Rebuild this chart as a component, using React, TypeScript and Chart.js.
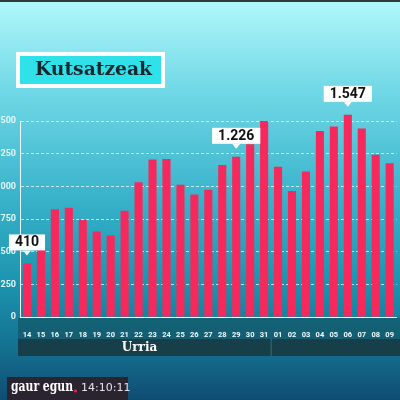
import React, { useEffect, useRef } from "react";
import { Chart, registerables } from "chart.js";

Chart.register(...registerables);

const categories = [
  "14", "15", "16", "17", "18", "19", "20", "21", "22", "23", "24", "25", "26",
  "27", "28", "29", "30", "31", "01", "02", "03", "04", "05", "06", "07", "08", "09",
];
const cases = [
  410, 563, 824, 837, 743, 655, 624, 814, 1031, 1205, 1210, 1012, 937,
  973, 1164, 1226, 1322, 1500, 1150, 965, 1114, 1424, 1458, 1547, 1442, 1242, 1176,
];
const yTicks = [0, 250, 500, 750, 1000, 1250, 1500];
const calloutCategories = ["14", "29", "06"];
const titleText = "Kutsatzeak";
const monthLabel = "Urria";
const monthEndCategory = "31";
const logoText = "gaur egun";
const clockText = "14:10:11";

function fmt(v: number): string {
  const s = String(Math.round(v));
  return s.replace(/\B(?=(\d{3})+(?!\d))/g, ".");
}

function drawFitted(ctx: CanvasRenderingContext2D, text: string, font: string, x: number, y: number, targetW: number) {
  ctx.font = font;
  const w = ctx.measureText(text).width;
  const sx = Math.min(1, targetW / w);
  ctx.save();
  ctx.translate(x, y);
  ctx.scale(sx, 1);
  ctx.fillText(text, 0, 0);
  ctx.restore();
}

const backgroundPlugin = {
  id: "bgPlugin",
  beforeDraw(chart: any) {
    const ctx: CanvasRenderingContext2D = chart.ctx;
    const W = chart.width;
    const H = chart.height;
    ctx.save();
    const g = ctx.createLinearGradient(0, 0, 0, H);
    g.addColorStop(0, "#b2f8fb");
    g.addColorStop(0.22, "#72d9e7");
    g.addColorStop(0.5, "#38b2ca");
    g.addColorStop(0.72, "#1a92ad");
    g.addColorStop(0.88, "#146e8e");
    g.addColorStop(1, "#104c72");
    ctx.fillStyle = g;
    ctx.fillRect(0, 0, W, H);
    ctx.fillStyle = "#2d3a3e";
    ctx.fillRect(0, 0, W, 2);

    // title box
    ctx.fillStyle = "#ffffff";
    ctx.fillRect(16, 52, 149, 36);
    ctx.fillStyle = "#2fe2ea";
    ctx.fillRect(20, 56, 141, 28);
    ctx.fillStyle = "#17272d";
    ctx.textAlign = "left";
    ctx.textBaseline = "middle";
    drawFitted(ctx, titleText, 'bold 19px "DejaVu Serif"', 35, 70.5, 117);

    // x label row band and month band
    const area = chart.chartArea;
    const xs = chart.scales.x;
    const left = area.left - 2;
    ctx.fillStyle = "rgba(18,78,92,0.6)";
    ctx.fillRect(left, area.bottom + 1, W - left, 21);
    ctx.fillStyle = "#163f49";
    ctx.fillRect(left, 339, W - left, 17);
    const endIdx = categories.indexOf(monthEndCategory);
    const divX = (xs.getPixelForValue(endIdx) + xs.getPixelForValue(endIdx + 1)) / 2;
    ctx.fillStyle = "#2f6670";
    ctx.fillRect(divX - 0.5, 339, 1.2, 17);
    ctx.font = 'bold 12px "DejaVu Serif"';
    ctx.fillStyle = "#ffffff";
    ctx.textAlign = "center";
    ctx.fillText(monthLabel, (left + divX) / 2 - 5, 347.5);

    // logo
    ctx.fillStyle = "#2a2330";
    ctx.fillRect(7, 377, 121, 23);
    ctx.fillStyle = "#ffffff";
    ctx.textAlign = "left";
    drawFitted(ctx, logoText, 'bold 14px "DejaVu Serif"', 11, 387.5, 62);
    ctx.fillStyle = "#e8204f";
    ctx.beginPath();
    ctx.arc(75.5, 391, 1.6, 0, Math.PI * 2);
    ctx.fill();
    ctx.font = '11px "DejaVu Sans"';
    ctx.fillStyle = "#e4e4e8";
    ctx.fillText(clockText, 81, 388.5);
    ctx.restore();
  },
};

const calloutPlugin = {
  id: "callouts",
  afterDatasetsDraw(chart: any) {
    const ctx: CanvasRenderingContext2D = chart.ctx;
    const meta = chart.getDatasetMeta(0);
    ctx.save();
    calloutCategories.forEach((cat) => {
      const i = categories.indexOf(cat);
      const bar = meta.data[i];
      if (!bar) return;
      const text = fmt(cases[i]);
      ctx.font = 'bold 14px "Roboto"';
      const tw = ctx.measureText(text).width;
      const bw = tw + 12;
      const bh = 16;
      const tipY = bar.y - 8;
      const boxBottom = tipY - 5;
      const bx = bar.x - bw / 2;
      const by = boxBottom - bh;
      ctx.fillStyle = "#ffffff";
      ctx.fillRect(bx, by, bw, bh);
      ctx.beginPath();
      ctx.moveTo(bar.x - 4, boxBottom);
      ctx.lineTo(bar.x + 4, boxBottom);
      ctx.lineTo(bar.x, tipY);
      ctx.closePath();
      ctx.fill();
      ctx.fillStyle = "#111111";
      ctx.textAlign = "center";
      ctx.textBaseline = "middle";
      ctx.fillText(text, bar.x, by + bh / 2 + 0.5);
    });
    ctx.restore();
  },
};

export default function App() {
  const ref = useRef<HTMLCanvasElement | null>(null);
  useEffect(() => {
    document.body.style.margin = "0";
    if (!ref.current) return;
    const chart = new Chart(ref.current, {
      type: "bar",
      data: {
        labels: categories,
        datasets: [
          {
            data: cases,
            backgroundColor: "#f7285c",
            borderWidth: 0,
            barPercentage: 0.58,
            categoryPercentage: 1,
            clip: false as any,
          },
        ],
      },
      options: {
        responsive: false,
        animation: false,
        devicePixelRatio: 1,
        layout: { padding: { top: 121, right: 2, left: 0, bottom: 0 } },
        plugins: { legend: { display: false }, tooltip: { enabled: false }, title: { display: false } },
        scales: {
          x: {
            grid: { display: false },
            border: { display: true, color: "rgba(255,255,255,0.9)", width: 1 },
            ticks: {
              color: "#f2fbfc",
              font: { family: "Roboto", weight: "bold", size: 7.5 },
              padding: 6,
              maxRotation: 0,
              autoSkip: false,
            },
            afterFit(scale: any) {
              scale.height = 83;
            },
          },
          y: {
            min: yTicks[0],
            max: yTicks[yTicks.length - 1],
            afterBuildTicks(scale: any) {
              scale.ticks = yTicks.map((v) => ({ value: v }));
            },
            grid: {
              color: "rgba(255,255,255,0.72)",
              lineWidth: 1,
              drawTicks: false,
            },
            border: { display: true, color: "rgba(255,255,255,0.9)", width: 1, dash: [3, 2] as any },
            ticks: {
              color: "#e4f7f9",
              font: { family: "Roboto", weight: "bold", size: 9 },
              padding: 4,
              callback: (v: any) => String(v),
            },
            afterFit(scale: any) {
              scale.width = 20;
            },
          },
        },
      },
      plugins: [backgroundPlugin, calloutPlugin],
    } as any);
    return () => chart.destroy();
  }, []);
  return (
    <div style={{ width: 400, height: 400 }}>
      <canvas ref={ref} width={400} height={400} />
    </div>
  );
}
